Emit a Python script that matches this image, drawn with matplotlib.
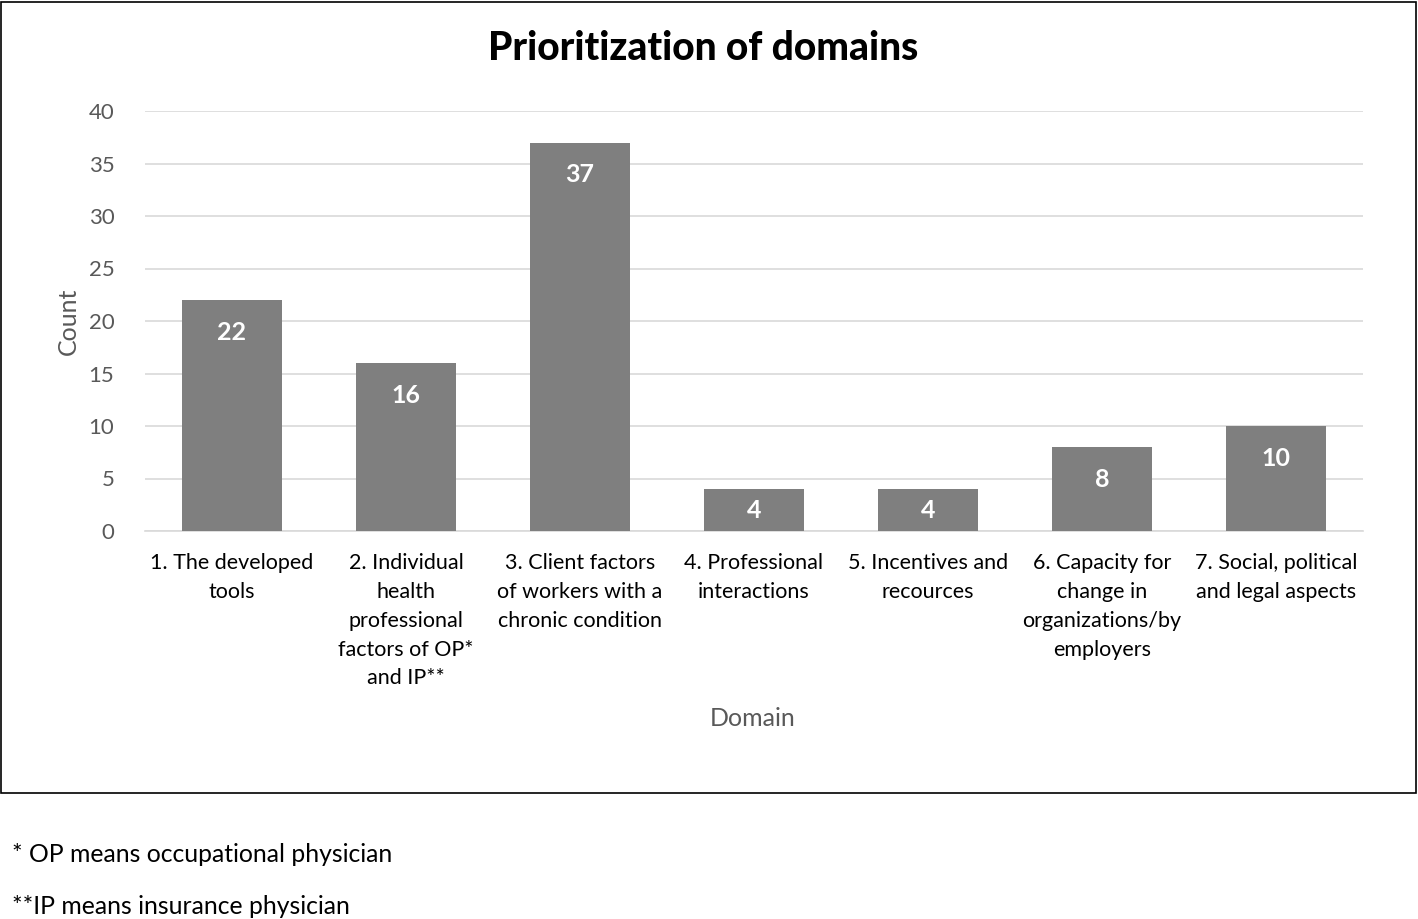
import matplotlib
matplotlib.use("Agg")
import matplotlib.pyplot as plt
from matplotlib.patches import Rectangle

categories = [
    "1. The developed\ntools",
    "2. Individual\nhealth\nprofessional\nfactors of OP*\nand IP**",
    "3. Client factors\nof workers with a\nchronic condition",
    "4. Professional\ninteractions",
    "5. Incentives and\nrecources",
    "6. Capacity for\nchange in\norganizations/by\nemployers",
    "7. Social, political\nand legal aspects",
]
counts = [22, 16, 37, 4, 4, 8, 10]
yticks = [0, 5, 10, 15, 20, 25, 30, 35, 40]
footnotes = ["* OP means occupational physician", "**IP means insurance physician"]

plt.rcParams['font.family'] = ['Lato', 'DejaVu Sans']

W, H = 1418, 919
fig = plt.figure(figsize=(W/100, H/100), dpi=100)
fig.patch.set_facecolor('white')

# border box around chart area
fig.add_artist(Rectangle((1/W, 1-793/H), 1415/W, 791/H, transform=fig.transFigure,
                         fill=False, edgecolor='black', linewidth=1.2))

ax = fig.add_axes([145/W, 1-531/H, 1218/W, 420/H])
x = list(range(len(categories)))
bars = ax.bar(x, counts, width=0.575, color='#7f7f7f', zorder=3)
ax.set_xlim(-0.5, len(categories)-0.5)
ax.set_ylim(0, 40)
ax.set_yticks(yticks)
ax.set_yticklabels([str(v) for v in yticks], fontsize=16, color='#595959')
ax.yaxis.grid(True, color='#d9d9d9', linewidth=1.2, zorder=0)
ax.set_axisbelow(True)
for s in ['top', 'right', 'left']:
    ax.spines[s].set_visible(False)
ax.spines['bottom'].set_color('#d9d9d9')
ax.spines['bottom'].set_linewidth(1.2)
ax.tick_params(axis='both', length=0)
ax.tick_params(axis='y', pad=22)
ax.set_xticks(x)
ax.set_xticklabels(categories, fontsize=15.5, color='#000000', linespacing=1.55)
ax.tick_params(axis='x', pad=16)

for b, v in zip(bars, counts):
    ax.text(b.get_x()+b.get_width()/2, max(v - 3.05, v/2), str(v), ha='center', va='center',
            color='white', fontsize=18, fontweight='bold')

ax.set_ylabel('Count', fontsize=18, color='#595959', labelpad=6)
fig.text(753/W, 1-719/H, 'Domain', ha='center', va='center', fontsize=18, color='#595959')
fig.text(703/W, 1-48/H, 'Prioritization of domains', ha='center', va='center',
         fontsize=28, fontweight='black', color='black')

fig.text(12/W, 1-854/H, footnotes[0], ha='left', va='center', fontsize=17.8, color='black')
fig.text(12/W, 1-906/H, footnotes[1], ha='left', va='center', fontsize=17.8, color='black')

fig.savefig('out.png', dpi=100)
